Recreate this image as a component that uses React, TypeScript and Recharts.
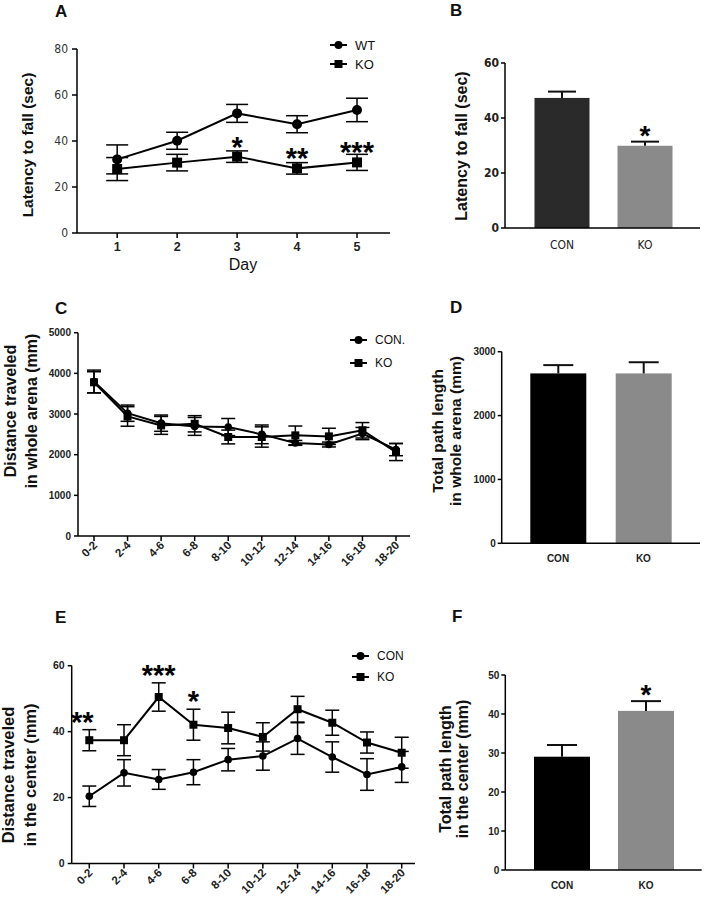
import React from 'react';
import { LineChart, Line, BarChart, Bar, Cell, XAxis, YAxis, ErrorBar, LabelList, Legend } from 'recharts';

const SANS = "'Liberation Sans', Arial, sans-serif";
const NARROW = "'Liberation Sans Narrow', 'Arial Narrow', 'DejaVu Sans Condensed', 'Liberation Sans', sans-serif";

// A: latency to fall per day
const days = [1, 2, 3, 4, 5];
const wtLatency = [32.0, 40.1, 52.0, 47.3, 53.5];
const wtLatencyErr = [6.3, 3.7, 3.9, 3.7, 5.1];
const koLatency = [27.8, 30.6, 33.2, 28.1, 30.7];
const koLatencyErr = [5.0, 3.6, 2.5, 2.5, 3.5];
const latencySig = ['', '', '*', '**', '***'];
const latencyTicks = [0, 20, 40, 60, 80];

// B, D, F: group means
const groups = ['CON', 'KO'];
const latencyMean = [47.3, 29.9];
const latencyMeanErr = [2.3, 1.5];
const latencyMeanSig = ['', '*'];
const latencyMeanTicks = [0, 20, 40, 60];

const arenaTotal = [2660, 2660];
const arenaTotalErr = [130, 175];
const arenaTotalSig = ['', ''];
const arenaTotalTicks = [0, 1000, 2000, 3000];

const centerTotal = [29.05, 40.8];
const centerTotalErr = [3.0, 2.5];
const centerTotalSig = ['', '*'];
const centerTotalTicks = [0, 10, 20, 30, 40, 50];

// C, E: time bins (min)
const bins = ['0-2', '2-4', '4-6', '6-8', '8-10', '10-12', '12-14', '14-16', '16-18', '18-20'];
const arenaCon = [3800, 3020, 2775, 2695, 2680, 2500, 2290, 2250, 2520, 2125];
const arenaConErr = [280, 200, 200, 220, 210, 230, 60, 60, 150, 150];
const arenaKo = [3780, 2940, 2720, 2760, 2435, 2435, 2475, 2450, 2600, 2065];
const arenaKoErr = [260, 240, 220, 200, 170, 250, 230, 200, 190, 210];
const arenaTicks = [0, 1000, 2000, 3000, 4000, 5000];

const centerCon = [20.4, 27.5, 25.5, 27.7, 31.5, 32.6, 37.9, 32.3, 27.0, 29.3];
const centerConErr = [3.1, 4.0, 3.0, 3.8, 3.4, 4.3, 4.8, 4.6, 4.8, 4.7];
const centerKo = [37.4, 37.4, 50.5, 42.1, 41.1, 38.4, 46.8, 42.7, 36.7, 33.6];
const centerKoErr = [3.2, 4.7, 4.3, 4.7, 4.8, 4.3, 3.9, 3.8, 3.2, 4.7];
const centerSig = ['**', '', '***', '*', '', '', '', '', '', ''];
const centerTicks = [0, 20, 40, 60];

const dataA = days.map((d, i) => ({ day: d, wt: wtLatency[i], wtErr: wtLatencyErr[i], ko: koLatency[i], koErr: koLatencyErr[i], sig: latencySig[i] }));
const barRows = (means: number[], errs: number[], sigs: string[]) =>
  groups.map((g, i) => ({ name: g, mean: means[i], err: errs[i], sig: sigs[i] }));
const dataB = barRows(latencyMean, latencyMeanErr, latencyMeanSig);
const dataD = barRows(arenaTotal, arenaTotalErr, arenaTotalSig);
const dataF = barRows(centerTotal, centerTotalErr, centerTotalSig);
const dataC = bins.map((b, i) => ({ bin: b, con: arenaCon[i], conErr: arenaConErr[i], ko: arenaKo[i], koErr: arenaKoErr[i] }));
const dataE = bins.map((b, i) => ({ bin: b, con: centerCon[i], conErr: centerConErr[i], ko: centerKo[i], koErr: centerKoErr[i], sig: centerSig[i] }));

const AXIS = { stroke: '#000', strokeWidth: 1.5 };

const squareDot = (s: number) => (props: any) => {
  const { cx, cy, index } = props;
  return <rect key={`sq-${index}`} x={cx - s / 2} y={cy - s / 2} width={s} height={s} fill="#000" />;
};

const AngledTick = (props: any) => {
  const { x, y, payload } = props;
  const ax = x + 4;
  const ay = y + 4;
  return (
    <text x={ax} y={ay} textAnchor="end" transform={`rotate(-45 ${ax} ${ay})`} fontSize={11.5} fontWeight="bold" fontFamily={SANS} fill="#222">
      {payload.value}
    </text>
  );
};

// circle series first, square series second, as in the figure
const legendOrder = (e: any) => (e.type === 'circle' ? 0 : 1);

const MarkerLegend = ({ payload, fontSize, rowH }: any) => (
  <div style={{ fontFamily: SANS }}>
    {(payload || []).map((e: any, i: number) => (
      <div key={i} style={{ display: 'flex', alignItems: 'center', height: rowH }}>
        <svg width={17} height={12}>
          <line x1={0} x2={17} y1={6} y2={6} stroke="#000" strokeWidth={2} />
          {e.type === 'square' ? <rect x={4.5} y={2} width={8} height={8} fill="#000" /> : <circle cx={8.5} cy={6} r={4} fill="#000" />}
        </svg>
        <span style={{ marginLeft: 8, fontSize, color: '#111' }}>{e.value}</span>
      </div>
    ))}
  </div>
);

const ErrShape = (capW: number) => (props: any) => {
  const { x, y, width, height, fill, payload } = props;
  const px = payload.mean > 0 ? height / payload.mean : 0;
  const top = y - payload.err * px;
  const cx = x + width / 2;
  return (
    <g>
      <rect x={x} y={y} width={width} height={height} fill={fill} />
      <line x1={cx} x2={cx} y1={y} y2={top} stroke="#111" strokeWidth={2} />
      <line x1={cx - capW / 2} x2={cx + capW / 2} y1={top} y2={top} stroke="#111" strokeWidth={2} />
    </g>
  );
};

const barStar = (rows: any[]) => (props: any) => {
  const { x, y, width, height, index, value } = props;
  if (!value) return null;
  const row = rows[index];
  const top = y - row.err * (height / row.mean);
  return (
    <text x={x + width / 2} y={top + 3} textAnchor="middle" fontSize={28} fontWeight="bold" fontFamily={SANS} fill="#000">
      {value}
    </text>
  );
};

const Box = ({ left, top, children }: any) => (
  <div style={{ position: 'absolute', left, top }}>{children}</div>
);

const BarPanel = ({ data, left, top, w, h, plotL, plotT, plotR, plotB, ticks, pad, barSize, colors, capW, tickStyle, catStyle }: any) => (
  <Box left={left} top={top}>
    <BarChart width={w} height={h} data={data} margin={{ top: plotT, right: w - plotR, bottom: 0, left: 0 }}>
      <XAxis dataKey="name" type="category" height={h - plotB} padding={pad} axisLine={AXIS} tickLine={false} tick={catStyle} tickMargin={6} />
      <YAxis type="number" width={plotL} domain={[ticks[0], ticks[ticks.length - 1]]} ticks={ticks} axisLine={AXIS} tickLine={AXIS} tickSize={4} tickMargin={2} tick={tickStyle} />
      <Bar dataKey="mean" barSize={barSize} isAnimationActive={false} shape={ErrShape(capW)}>
        {data.map((_: any, i: number) => <Cell key={i} fill={colors[i]} />)}
        <LabelList dataKey="sig" content={barStar(data)} />
      </Bar>
    </BarChart>
  </Box>
);

const eStar = (props: any) => {
  const { x, y, index, value } = props;
  if (!value) return null;
  const pxPerUnit = 197.8 / 60;
  const base = y - centerKoErr[index] * pxPerUnit + 2;
  return (
    <text x={x + (index === 0 ? -7 : 0)} y={base} textAnchor="middle" fontSize={29} fontWeight="bold" fontFamily={SANS} fill="#000">
      {value}
    </text>
  );
};

const aStar = (props: any) => {
  const { x, y, value } = props;
  if (!value) return null;
  return (
    <text x={x} y={y} textAnchor="middle" fontSize={29} fontWeight="bold" fontFamily={SANS} fill="#000">
      {value}
    </text>
  );
};

const Title = ({ x, y, size, lines, gap }: any) => (
  <g transform={`translate(${x},${y}) rotate(-90)`}>
    {lines.map((t: string, i: number) => (
      <text key={i} x={0} y={i * gap} textAnchor="middle" fontSize={size} fontWeight="bold" fontFamily={SANS} fill="#111">
        {t}
      </text>
    ))}
  </g>
);

const smallBold = { fontSize: 10, fontWeight: 'bold', fontFamily: SANS, fill: '#222' };

export default function App() {
  return (
    <div style={{ position: 'absolute', left: 0, top: 0, width: 704, height: 899, background: '#fff', overflow: 'hidden' }}>
      {/* A */}
      <Box left={0} top={0}>
        <LineChart width={400} height={280} data={dataA} margin={{ top: 49, right: 10, bottom: 0, left: 0 }}>
          <XAxis dataKey="day" type="number" domain={[0.33, 5.55]} ticks={days} allowDataOverflow height={47} axisLine={AXIS} tickLine={AXIS} tickSize={5} tickMargin={4}
            tick={{ fontSize: 12.5, fontWeight: 'bold', fontFamily: SANS, fill: '#222' }} />
          <YAxis type="number" width={77} domain={[0, 80]} ticks={latencyTicks} axisLine={AXIS} tickLine={AXIS} tickSize={5} tickMargin={4}
            tick={{ fontSize: 12, fontFamily: NARROW, fill: '#333' }} />
          <Legend layout="vertical" align="center" verticalAlign="middle" itemSorter={legendOrder}
            wrapperStyle={{ left: 330, top: 35.5, width: 70, right: 'auto', bottom: 'auto' }}
            content={(p: any) => <MarkerLegend payload={p.payload} fontSize={13} rowH={19} />} />
          <Line dataKey="wt" name="WT" legendType="circle" stroke="#000" strokeWidth={2} dot={{ r: 5, fill: '#000', stroke: 'none' }} isAnimationActive={false}>
            <ErrorBar dataKey="wtErr" width={11} stroke="#000" strokeWidth={1.5} direction="y" />
          </Line>
          <Line dataKey="ko" name="KO" legendType="square" stroke="#000" strokeWidth={2} dot={squareDot(10)} isAnimationActive={false}>
            <ErrorBar dataKey="koErr" width={11} stroke="#000" strokeWidth={1.5} direction="y" />
            <LabelList dataKey="sig" content={aStar} />
          </Line>
        </LineChart>
      </Box>

      {/* B */}
      <BarPanel data={dataB} left={400} top={0} w={304} h={280} plotL={105} plotT={63} plotR={700 - 400} plotB={228}
        ticks={latencyMeanTicks} pad={{ left: 15.5, right: 13.5 }} barSize={55} colors={['#2a2a2a', '#8a8a8a']} capW={28}
        tickStyle={{ fontSize: 12, fontWeight: 'bold', fontFamily: NARROW, fill: '#222' }}
        catStyle={{ fontSize: 12, fontFamily: NARROW, fill: '#222' }} />

      {/* C */}
      <Box left={0} top={280}>
        <LineChart width={420} height={290} data={dataC} margin={{ top: 52.7, right: 10, bottom: 0, left: 0 }}>
          <XAxis dataKey="bin" type="category" interval={0} padding={{ left: 16, right: 14 }} height={34} axisLine={AXIS} tickLine={AXIS} tickSize={5} tickMargin={1} tick={<AngledTick />} />
          <YAxis type="number" width={78} domain={[0, 5000]} ticks={arenaTicks} axisLine={AXIS} tickLine={AXIS} tickSize={4} tickMargin={3} tick={smallBold} />
          <Legend layout="vertical" align="center" verticalAlign="middle" itemSorter={legendOrder}
            wrapperStyle={{ left: 350, top: 48.5, width: 70, right: 'auto', bottom: 'auto' }}
            content={(p: any) => <MarkerLegend payload={p.payload} fontSize={12} rowH={23} />} />
          <Line dataKey="con" name="CON." legendType="circle" stroke="#000" strokeWidth={2} dot={{ r: 3.8, fill: '#000', stroke: 'none' }} isAnimationActive={false}>
            <ErrorBar dataKey="conErr" width={7} stroke="#000" strokeWidth={1.5} direction="y" />
          </Line>
          <Line dataKey="ko" name="KO" legendType="square" stroke="#000" strokeWidth={2} dot={squareDot(8)} isAnimationActive={false}>
            <ErrorBar dataKey="koErr" width={7} stroke="#000" strokeWidth={1.5} direction="y" />
          </Line>
        </LineChart>
      </Box>

      {/* D */}
      <BarPanel data={dataD} left={400} top={280} w={304} h={290} plotL={101.7} plotT={71.7} plotR={300} plotB={263.3}
        ticks={arenaTotalTicks} pad={{ left: 13.6, right: 13.9 }} barSize={56} colors={['#000', '#8a8a8a']} capW={30}
        tickStyle={smallBold} catStyle={{ fontSize: 10, fontWeight: 'bold', fontFamily: SANS, fill: '#222' }} />

      {/* E */}
      <Box left={0} top={570}>
        <LineChart width={420} height={329} data={dataE} margin={{ top: 95.7, right: 5, bottom: 0, left: 0 }}>
          <XAxis dataKey="bin" type="category" interval={0} padding={{ left: 17.6, right: 13.3 }} height={35.5} axisLine={AXIS} tickLine={AXIS} tickSize={5} tickMargin={1} tick={<AngledTick />} />
          <YAxis type="number" width={71.7} domain={[0, 60]} ticks={centerTicks} axisLine={AXIS} tickLine={AXIS} tickSize={4} tickMargin={3}
            tick={{ fontSize: 10.5, fontWeight: 'bold', fontFamily: SANS, fill: '#222' }} />
          <Legend layout="vertical" align="center" verticalAlign="middle" itemSorter={legendOrder}
            wrapperStyle={{ left: 352, top: 75.5, width: 68, right: 'auto', bottom: 'auto' }}
            content={(p: any) => <MarkerLegend payload={p.payload} fontSize={12} rowH={21} />} />
          <Line dataKey="con" name="CON" legendType="circle" stroke="#000" strokeWidth={2} dot={{ r: 3.8, fill: '#000', stroke: 'none' }} isAnimationActive={false}>
            <ErrorBar dataKey="conErr" width={7} stroke="#000" strokeWidth={1.5} direction="y" />
          </Line>
          <Line dataKey="ko" name="KO" legendType="square" stroke="#000" strokeWidth={2} dot={squareDot(8)} isAnimationActive={false}>
            <ErrorBar dataKey="koErr" width={7} stroke="#000" strokeWidth={1.5} direction="y" />
            <LabelList dataKey="sig" content={eStar} />
          </Line>
        </LineChart>
      </Box>

      {/* F */}
      <BarPanel data={dataF} left={400} top={570} w={304} h={329} plotL={105.3} plotT={105} plotR={301.7} plotB={300}
        ticks={centerTotalTicks} pad={{ left: 14.7, right: 13.7 }} barSize={56} colors={['#000', '#8a8a8a']} capW={30}
        tickStyle={smallBold} catStyle={{ fontSize: 10, fontWeight: 'bold', fontFamily: SANS, fill: '#222' }} />

      {/* panel letters and axis titles */}
      <svg width={704} height={899} style={{ position: 'absolute', left: 0, top: 0, pointerEvents: 'none' }}>
        {[['A', 55, 17], ['B', 450, 16], ['C', 55, 314], ['D', 450, 313], ['E', 55, 623], ['F', 452, 622]].map(([t, x, y]: any) => (
          <text key={t} x={x} y={y} fontSize={17} fontWeight="bold" fontFamily={SANS} fill="#111">{t}</text>
        ))}
        <text x={243} y={270} textAnchor="middle" fontSize={16} fontFamily={SANS} fill="#111">Day</text>
        <Title x={33} y={145} size={15.5} gap={0} lines={['Latency to fall (sec)']} />
        <Title x={466.5} y={146} size={16} gap={0} lines={['Latency to fall (sec)']} />
        <Title x={16} y={411} size={16} gap={21} lines={['Distance traveled', 'in whole arena (mm)']} />
        <Title x={443} y={431} size={15.5} gap={18} lines={['Total path length', 'in whole arena (mm)']} />
        <Title x={14} y={775} size={16.5} gap={22} lines={['Distance traveled', 'in the center (mm)']} />
        <Title x={451} y={769} size={16} gap={16.5} lines={['Total path length', 'in the center (mm)']} />
      </svg>
    </div>
  );
}
